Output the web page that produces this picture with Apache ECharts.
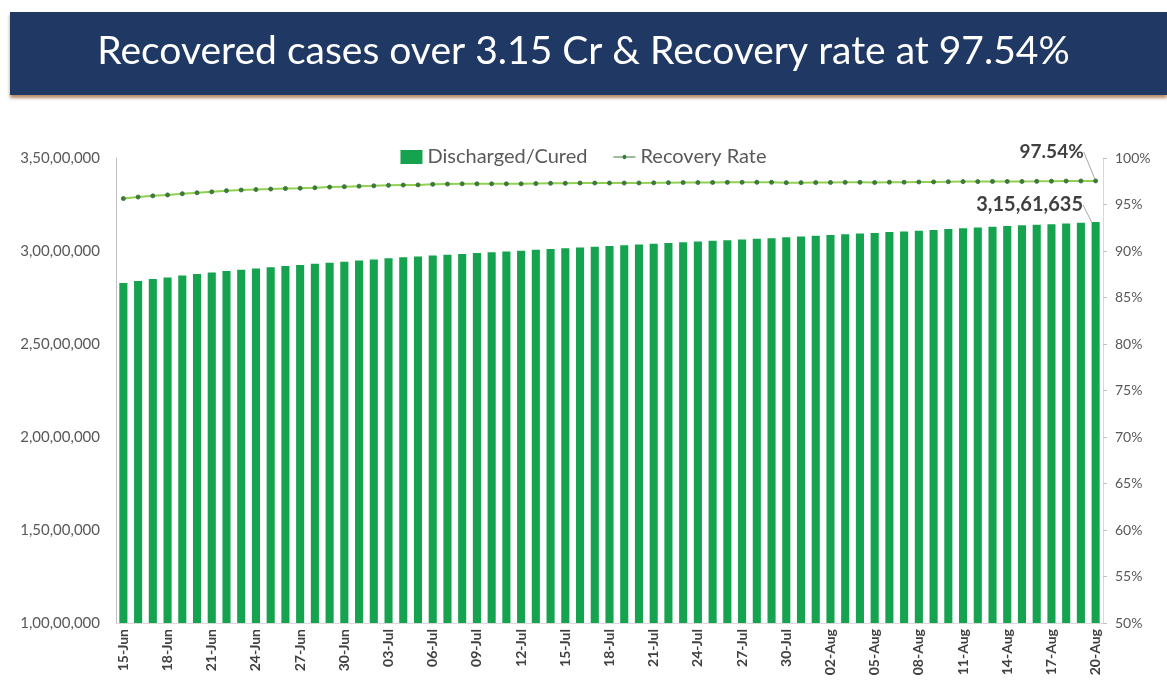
<!DOCTYPE html>
<html>
<head>
<meta charset="utf-8">
<script src="https://cdn.jsdelivr.net/npm/echarts@6/dist/echarts.min.js"></script>
<style>
html,body{margin:0;padding:0;background:#fff;}
#c{width:1167px;height:687px;}
</style>
</head>
<body>
<div id="c"></div>
<script>
var titleText = 'Recovered cases over 3.15 Cr & Recovery rate at 97.54%';
var categories = [
 '15-Jun','16-Jun','17-Jun','18-Jun','19-Jun','20-Jun','21-Jun','22-Jun','23-Jun','24-Jun','25-Jun','26-Jun','27-Jun','28-Jun','29-Jun','30-Jun',
 '01-Jul','02-Jul','03-Jul','04-Jul','05-Jul','06-Jul','07-Jul','08-Jul','09-Jul','10-Jul','11-Jul','12-Jul','13-Jul','14-Jul','15-Jul','16-Jul',
 '17-Jul','18-Jul','19-Jul','20-Jul','21-Jul','22-Jul','23-Jul','24-Jul','25-Jul','26-Jul','27-Jul','28-Jul','29-Jul','30-Jul','31-Jul',
 '01-Aug','02-Aug','03-Aug','04-Aug','05-Aug','06-Aug','07-Aug','08-Aug','09-Aug','10-Aug','11-Aug','12-Aug','13-Aug','14-Aug','15-Aug',
 '16-Aug','17-Aug','18-Aug','19-Aug','20-Aug'
];
var discharged = [
 28280472,28388100,28491670,28580647,28678390,28766009,28844199,28926038,28994855,29063740,29128267,29193085,29251029,29309607,29366601,29427330,
 29488918,29548302,29605779,29658078,29700430,29752294,29799534,29843825,29888284,29933538,29975064,30014713,30063720,30104720,30143850,30187743,
 30229000,30268000,30310000,30350000,30390687,30433000,30471000,30510000,30546000,30582000,30621469,30657000,30691000,30733000,30774000,
 30814000,30855000,30896000,30937000,30974000,31015844,31055000,31094000,31132000,31180968,31220981,31260000,31299000,31338088,31378000,
 31415000,31441000,31476000,31516000,31561635
];
var recoveryRate = [
 95.64,95.80,95.93,96.03,96.16,96.26,96.36,96.49,96.56,96.61,96.66,96.72,96.75,96.80,96.87,96.92,
 96.97,97.01,97.06,97.09,97.11,97.17,97.20,97.22,97.22,97.22,97.22,97.22,97.25,97.28,97.28,97.31,
 97.31,97.31,97.31,97.32,97.33,97.35,97.36,97.36,97.37,97.38,97.39,97.39,97.39,97.35,97.35,
 97.36,97.37,97.38,97.39,97.36,97.40,97.40,97.42,97.43,97.45,97.46,97.46,97.48,97.48,97.48,
 97.49,97.51,97.52,97.53,97.54
];
var leftTicks = {min: 10000000, max: 35000000, interval: 5000000};
var rightTicks = {min: 50, max: 100, interval: 5};

function indianFormat(n){
  var s = Math.round(n).toString();
  if (s.length <= 3) return s;
  var last3 = s.slice(-3), rest = s.slice(0, -3);
  rest = rest.replace(/\B(?=(\d{2})+(?!\d))/g, ',');
  return rest + ',' + last3;
}
var lastIdx = categories.length - 1;
var FONT = 'Lato';

var chart = echarts.init(document.getElementById('c'));
chart.setOption({
  animation: false,
  graphic: [
    {type:'rect', left:10, top:12, shape:{width:1157, height:83},
     style:{fill:'#1F3864', shadowColor:'rgba(150,90,40,0.7)', shadowOffsetY:3, shadowBlur:3}, z:0}
  ],
  title: {
    text: titleText, left: 'center', top: 27,
    textStyle: {color:'#ffffff', fontFamily:FONT, fontWeight:'normal', fontSize:39}
  },
  legend: {
    top: 142, left: 'center', itemGap: 26, itemWidth: 22, itemHeight: 14,
    textStyle: {color:'#595959', fontFamily:FONT, fontSize:20},
    data: [
      {name:'Discharged/Cured', icon:'rect', itemStyle:{color:'#16A34F'}},
      {name:'Recovery Rate', icon:'path://M0,6 L10,6 A2,2 0 1 1 14,6 L24,6 L24,7 L14,7 A2,2 0 1 1 10,7 L0,7 Z', itemStyle:{color:'#3B7A3B'}}
    ]
  },
  grid: {left:116, right:64, top:158, bottom:64},
  xAxis: {
    type:'category', data: categories,
    axisLine:{lineStyle:{color:'#d9d9d9'}},
    axisTick:{show:false},
    axisLabel:{rotate:90, interval:2, color:'#404040', fontFamily:FONT, fontWeight:'bold', fontSize:14, margin:6}
  },
  yAxis: [
    {type:'value', min:leftTicks.min, max:leftTicks.max, interval:leftTicks.interval,
     axisLine:{show:true, lineStyle:{color:'#bfbfbf'}}, axisTick:{show:false}, splitLine:{show:false},
     axisLabel:{color:'#595959', fontFamily:FONT, fontSize:15, margin:16, formatter:function(v){return indianFormat(v);}}},
    {type:'value', min:rightTicks.min, max:rightTicks.max, interval:rightTicks.interval, position:'right',
     axisLine:{show:true, lineStyle:{color:'#d9d9d9'}}, axisTick:{show:true, length:4, lineStyle:{color:'#bfbfbf'}}, splitLine:{show:false},
     axisLabel:{color:'#595959', fontFamily:FONT, fontSize:14, margin:12, formatter:function(v){return v+'%';}}}
  ],
  series: [
    {
      name:'Discharged/Cured', type:'bar', yAxisIndex:0, barWidth:'55%',
      itemStyle:{color:'#16A34F'},
      data: discharged.map(function(v,i){
        var d = {value:v};
        if (i === lastIdx) d.label = {show:true, position:'top', formatter:function(p){return indianFormat(p.value);},
          color:'#404040', fontFamily:FONT, fontWeight:'bold', fontSize:20};
        return d;
      }),
      labelLayout: function(p){ return p.dataIndex === lastIdx ? {dx:-66, dy:-2} : {}; },
      labelLine: {show:true, lineStyle:{color:'#a6a6a6', width:1}}
    },
    {
      name:'Recovery Rate', type:'line', yAxisIndex:1,
      symbol:'circle', symbolSize:4,
      lineStyle:{color:'#92D050', width:2},
      itemStyle:{color:'#3B7A3B', borderColor:'#3B7A3B'},
      data: recoveryRate.map(function(v,i){
        var d = {value:v};
        if (i === lastIdx) d.label = {show:true, position:'top', formatter:function(p){return p.value.toFixed(2)+'%';},
          color:'#404040', fontFamily:FONT, fontWeight:'bold', fontSize:19};
        return d;
      }),
      labelLayout: function(p){ return p.dataIndex === lastIdx ? {dx:-44, dy:-12} : {}; },
      labelLine: {show:true, lineStyle:{color:'#a6a6a6', width:1}}
    }
  ]
});
</script>
</body>
</html>
